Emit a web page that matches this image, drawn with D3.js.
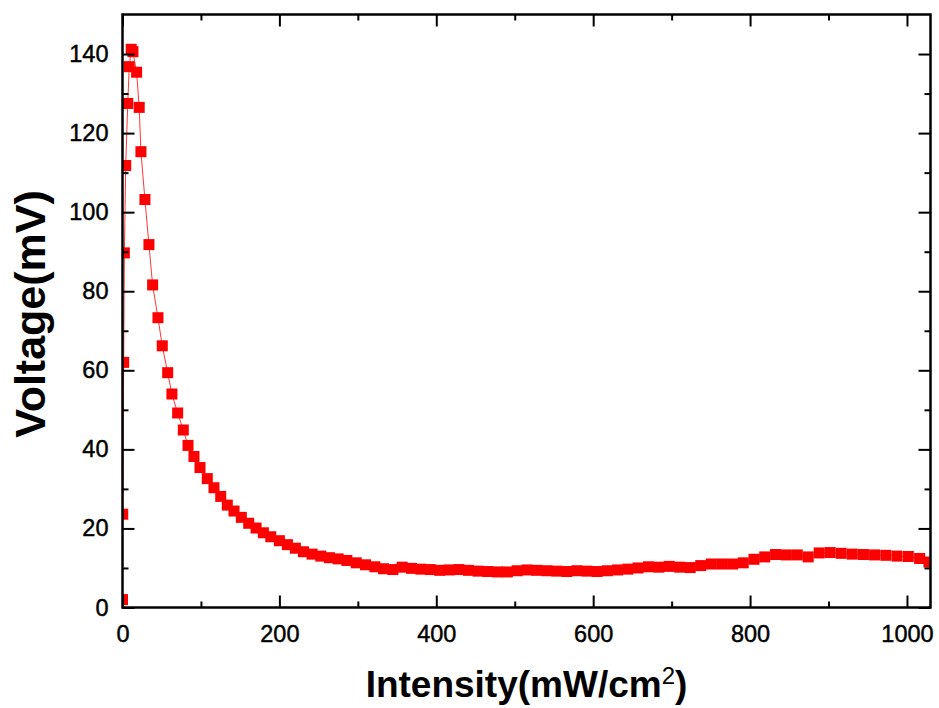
<!DOCTYPE html>
<html>
<head>
<meta charset="utf-8">
<script src="https://cdn.jsdelivr.net/npm/d3@7"></script>
<style>
  html, body { margin: 0; padding: 0; background: #fff; }
  svg { display: block; }
</style>
</head>
<body>
<svg id="chart" width="939" height="708"></svg>
<script>
// Light intensity (mW/cm²) of each measurement
const intensity = [
  0, 0.3, 1.5, 2.4, 4.1, 6.7, 8.6, 11.1, 13.3, 18.0,
  21.3, 23.5, 28.6, 33.7, 38.4, 45.2, 50.7, 57.6, 63.0, 70.3,
  77.5, 83.5, 91.1, 98.8, 108.1, 116.6, 125.2, 133.6, 142.2, 151.5,
  160.9, 170.3, 179.6, 189.0, 200.0, 210.2, 220.4, 230.7, 241.7, 252.8,
  263.8, 274.9, 286.0, 297.9, 309.8, 321.7, 332.8, 344.7, 356.5, 368.4,
  380.3, 392.3, 404.4, 416.5, 428.7, 441.0, 453.3, 465.7, 478.1, 490.6,
  503.1, 515.7, 528.3, 541.0, 553.7, 566.5, 579.3, 592.2, 605.1, 618.1,
  631.1, 644.2, 657.3, 670.5, 683.7, 697.0, 710.3, 723.7, 737.1, 750.6,
  764.1, 777.7, 791.3, 805.0, 818.7, 832.5, 846.3, 860.2, 874.1, 888.1,
  902.1, 916.2, 930.3, 944.5, 958.7, 973.0, 987.3, 1001.7, 1016.1, 1028.0
];

// Measured voltage (mV) at each intensity
const voltage = [
  2.0, 23.6, 62.0, 89.7, 111.8, 127.5, 136.8, 141.2, 140.6, 135.4,
  126.5, 115.3, 103.2, 91.8, 81.6, 73.3, 66.2, 59.4, 54.0, 49.2,
  44.9, 41.0, 38.2, 35.4, 32.6, 30.3, 28.1, 25.9, 24.4, 22.8,
  21.3, 20.1, 18.9, 17.9, 16.9, 15.9, 15.0, 14.1, 13.5, 13.0,
  12.6, 12.3, 11.9, 11.3, 10.8, 10.3, 9.8, 9.6, 10.2, 9.9,
  9.7, 9.6, 9.4, 9.5, 9.6, 9.4, 9.2, 9.1, 9.0, 9.0,
  9.3, 9.5, 9.4, 9.3, 9.2, 9.1, 9.3, 9.2, 9.1, 9.3,
  9.5, 9.7, 10.0, 10.3, 10.2, 10.4, 10.2, 10.1, 10.6, 11.0,
  11.0, 11.0, 11.3, 12.2, 12.8, 13.4, 13.3, 13.3, 12.8, 13.8,
  13.9, 13.7, 13.5, 13.4, 13.3, 13.2, 13.0, 12.9, 12.4, 11.5
];

const xMajorTicks = [0, 200, 400, 600, 800, 1000];
const xMinorTicks = [100, 300, 500, 700, 900];
const yMajorTicks = [0, 20, 40, 60, 80, 100, 120, 140];
const yMinorTicks = [10, 30, 50, 70, 90, 110, 130];

const xTitle = "Intensity(mW/cm";
const xTitleSup = "2";
const xTitleEnd = ")";
const yTitle = "Voltage(mV)";

const W = 939, H = 708;
const margin = { top: 14.5, right: 8.5, bottom: 100.5, left: 122.5 };
const pw = W - margin.left - margin.right;
const ph = H - margin.top - margin.bottom;

const svg = d3.select("#chart");
const g = svg.append("g").attr("transform", `translate(${margin.left},${margin.top})`);

const x = d3.scaleLinear().domain([0, 1030]).range([0, pw]);
const y = d3.scaleLinear().domain([0, 150]).range([ph, 0]);

const points = intensity.map((v, i) => ({ x: v, y: voltage[i] }));

g.append("clipPath").attr("id", "plot-clip")
  .append("rect").attr("width", pw).attr("height", ph);

const plot = g.append("g").attr("clip-path", "url(#plot-clip)");

// connecting line
plot.append("path")
  .datum(points)
  .attr("fill", "none")
  .attr("stroke", "#ff2020")
  .attr("stroke-width", 0.9)
  .attr("d", d3.line().x(d => x(d.x)).y(d => y(d.y)));

// square markers
const ms = 11;
plot.selectAll("rect.pt")
  .data(points)
  .join("rect")
  .attr("class", "pt")
  .attr("x", d => x(d.x) - ms / 2)
  .attr("y", d => y(d.y) - ms / 2)
  .attr("width", ms)
  .attr("height", ms)
  .attr("fill", "#ff0000");

const tickFont = "'Liberation Sans', Arial, sans-serif";

function styleAxis(sel) {
  sel.select(".domain").remove();
  sel.selectAll(".tick line").attr("stroke", "#000").attr("stroke-width", 2);
  sel.selectAll("text")
    .attr("font-family", tickFont)
    .attr("font-size", 23.5)
    .attr("fill", "#000")
    .attr("stroke", "#000")
    .attr("stroke-width", 0.45);
}

// bottom
g.append("g").attr("transform", `translate(0,${ph})`)
  .call(d3.axisBottom(x).tickValues(xMajorTicks).tickSize(-12).tickPadding(17.5).tickFormat(d3.format("d")))
  .call(styleAxis);
g.append("g").attr("transform", `translate(0,${ph})`)
  .call(d3.axisBottom(x).tickValues(xMinorTicks).tickSize(-6).tickFormat(""))
  .call(styleAxis);
// top
g.append("g")
  .call(d3.axisTop(x).tickValues(xMajorTicks).tickSize(-12).tickFormat(""))
  .call(styleAxis);
g.append("g")
  .call(d3.axisTop(x).tickValues(xMinorTicks).tickSize(-6).tickFormat(""))
  .call(styleAxis);
// left
g.append("g")
  .call(d3.axisLeft(y).tickValues(yMajorTicks).tickSize(-12).tickPadding(14).tickFormat(d3.format("d")))
  .call(styleAxis);
g.append("g")
  .call(d3.axisLeft(y).tickValues(yMinorTicks).tickSize(-6).tickFormat(""))
  .call(styleAxis);
// right
g.append("g").attr("transform", `translate(${pw},0)`)
  .call(d3.axisRight(y).tickValues(yMajorTicks).tickSize(-12).tickFormat(""))
  .call(styleAxis);
g.append("g").attr("transform", `translate(${pw},0)`)
  .call(d3.axisRight(y).tickValues(yMinorTicks).tickSize(-6).tickFormat(""))
  .call(styleAxis);

// frame
g.append("rect")
  .attr("width", pw).attr("height", ph)
  .attr("fill", "none").attr("stroke", "#000").attr("stroke-width", 2.5);

// axis titles
const titleFont = "'Liberation Sans', Arial, sans-serif";
const xt = svg.append("text")
  .attr("x", margin.left + pw / 2)
  .attr("y", 697)
  .attr("text-anchor", "middle")
  .attr("font-family", titleFont)
  .attr("font-weight", "bold")
  .attr("font-size", 37)
  .attr("fill", "#000");
xt.append("tspan").text(xTitle);
xt.append("tspan").attr("font-size", 24).attr("font-weight", "normal").attr("dx", 0).attr("dy", -13).text(xTitleSup);
xt.append("tspan").attr("dy", 13).text(xTitleEnd);

svg.append("text")
  .attr("transform", `translate(45,${margin.top + ph / 2 + 3}) rotate(-90)`)
  .attr("text-anchor", "middle")
  .attr("font-family", titleFont)
  .attr("font-weight", "bold")
  .attr("font-size", 43)
  .attr("fill", "#000")
  .text(yTitle);
</script>
</body>
</html>
